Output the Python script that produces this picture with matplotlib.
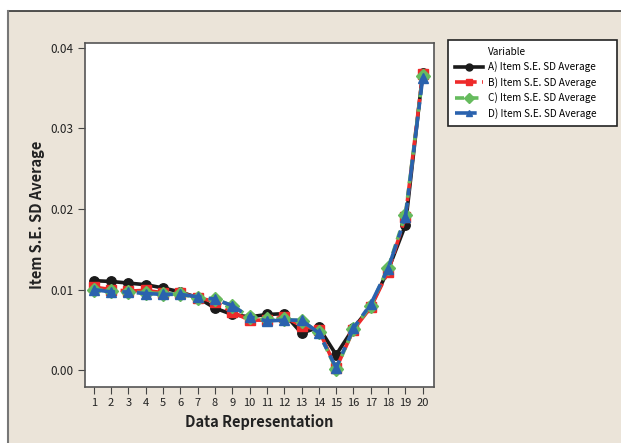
import matplotlib.pyplot as plt
from matplotlib.patches import Rectangle
from matplotlib.lines import Line2D

plt.rcParams['font.family'] = ['Noto Sans CJK JP', 'DejaVu Sans']

# data
reps = list(range(1, 21))
item_a = [0.0111, 0.0110, 0.0108, 0.0106, 0.0102, 0.0097, 0.0090, 0.0077, 0.0069, 0.0066,
          0.0069, 0.0070, 0.0046, 0.0053, 0.0019, 0.0052, 0.0079, 0.0124, 0.0180, 0.0369]
item_b = [0.0103, 0.0100, 0.0098, 0.0099, 0.0096, 0.0096, 0.0090, 0.0085, 0.0072, 0.0062,
          0.0062, 0.0066, 0.0055, 0.0050, 0.0002, 0.0050, 0.0078, 0.0122, 0.0190, 0.0368]
item_c = [0.0100, 0.0098, 0.0097, 0.0096, 0.0095, 0.0094, 0.0090, 0.0088, 0.0080, 0.0066,
          0.0063, 0.0063, 0.0061, 0.0047, 0.0001, 0.0051, 0.0080, 0.0127, 0.0193, 0.0365]
item_d = [0.0100, 0.0097, 0.0097, 0.0095, 0.0094, 0.0094, 0.0091, 0.0088, 0.0080, 0.0066,
          0.0061, 0.0062, 0.0062, 0.0046, 0.0003, 0.0052, 0.0082, 0.0126, 0.0190, 0.0363]
labels = ['A) Item S.E. SD Average', 'B) Item S.E. SD Average',
          'C) Item S.E. SD Average', 'D) Item S.E. SD Average']

beige = '#ebe4d9'
fig = plt.figure(figsize=(6.21, 4.43), dpi=100)
fig.patch.set_facecolor('white')

# beige panel with frame lines (top / left)
W, H = 621, 443
fig.patches.append(Rectangle((8 / W, 0), 1 - 8 / W, 1 - 11 / H, transform=fig.transFigure,
                             facecolor=beige, edgecolor='none', zorder=-10))
fig.add_artist(Line2D([8 / W, 1], [1 - 10.5 / H, 1 - 10.5 / H], color='#333333', lw=1.2, zorder=-5))
fig.add_artist(Line2D([8 / W, 8 / W], [0, 1 - 10.5 / H], color='#777777', lw=1.5, zorder=-5))

ax = fig.add_axes([85 / W, 1 - 387 / H, (434 - 85) / W, (387 - 43) / H])
ax.set_facecolor('white')

series = [
    (item_a, '#1a1a1a', 'o', '-'),
    (item_b, '#ee2a2a', 's', (0, (6, 1.5))),
    (item_c, '#66bb5e', 'D', (0, (2.5, 1.5))),
    (item_d, '#2a62ae', '^', (0, (6, 2, 2, 2))),
]
for ys, col, mk, ls in series:
    ax.plot(reps, ys, color=col, lw=2.6, linestyle=ls, marker=mk, markersize=6.8,
            markeredgecolor=col, markerfacecolor=col)

ax.set_xlim(0.5, 20.65)
ax.set_ylim(-0.0021, 0.0406)
ax.set_xticks(reps)
ax.set_yticks([0.0, 0.01, 0.02, 0.03, 0.04])
ax.set_yticklabels(['0.00', '0.01', '0.02', '0.03', '0.04'])
ax.tick_params(axis='both', labelsize=8.5, length=5, color='#444444', labelcolor='#222222')
ax.tick_params(axis='x', labelsize=8, pad=3)
for sp in ax.spines.values():
    sp.set_color('#555555')
    sp.set_linewidth(1.2)

ax.set_xlabel('Data Representation', fontsize=10.5, fontweight='bold', color='#222222', labelpad=4)
ax.set_ylabel('Item S.E. SD Average', fontsize=10.5, fontweight='bold', color='#222222', labelpad=4)

handles = []
for (ys, col, mk, ls), lab in zip(series, labels):
    handles.append(Line2D([], [], color=col, lw=2.6, linestyle=ls, marker=mk, markersize=5,
                          markeredgecolor=col, markerfacecolor=col, label=lab))
leg = fig.legend(handles=handles, title='Variable', loc='upper left',
                 bbox_to_anchor=(448 / W, 1 - 40 / H, (617 - 448) / W, 0), mode='expand',
                 borderaxespad=0, fontsize=7.2, title_fontsize=7.2,
                 frameon=True, fancybox=False, edgecolor='#222222', handlelength=2.8,
                 handletextpad=0.5, borderpad=0.7, labelspacing=0.45, framealpha=1)
leg.get_frame().set_linewidth(1.2)
leg._legend_box.align = 'left'
leg.get_title().set_position((33, 0))

fig.savefig('out.png', dpi=100, facecolor=fig.get_facecolor())
